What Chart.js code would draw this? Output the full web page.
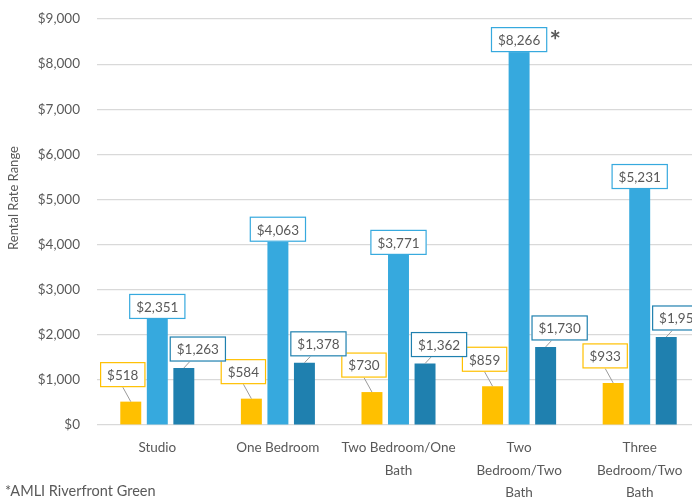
<!DOCTYPE html>
<html>
<head>
<meta charset="utf-8">
<script src="https://cdn.jsdelivr.net/npm/chart.js@4"></script>
<style>
  html, body { margin: 0; padding: 0; background: #fff; }
  #wrap { width: 692px; height: 500px; overflow: hidden; position: relative; }
  #box { width: 700px; height: 500px; }
</style>
</head>
<body>
<div id="wrap"><div id="box"><canvas id="c"></canvas></div></div>
<script>
const categories = [
  "Studio",
  "One Bedroom",
  ["Two Bedroom/One", "Bath"],
  ["Two", "Bedroom/Two", "Bath"],
  ["Three", "Bedroom/Two", "Bath"]
];
const lowValues = [518, 584, 730, 859, 933];
const highValues = [2351, 4063, 3771, 8266, 5231];
const avgValues = [1263, 1378, 1362, 1730, 1951];
const yTicks = [0, 1000, 2000, 3000, 4000, 5000, 6000, 7000, 8000, 9000];
const starredIndex = 3;
const footnote = "*AMLI Riverfront Green";
const yTitle = "Rental Rate Range";

const YELLOW = "#FFC000";
const LIGHT = "#36A9DE";
const DARK = "#1F80AF";
const TEXT = "#595959";
const FONT = "Lato, 'Open Sans', sans-serif";

const money = v => "$" + v.toLocaleString("en-US");

// labels in boxes, placed like the original callouts
const calloutPlugin = {
  id: "callouts",
  afterDatasetsDraw(chart) {
    const ctx = chart.ctx;
    ctx.save();
    ctx.font = "13.5px " + FONT;
    ctx.textAlign = "center";
    ctx.textBaseline = "middle";
    const h = 25;
    chart.data.datasets.forEach((ds, di) => {
      const meta = chart.getDatasetMeta(di);
      meta.data.forEach((bar, i) => {
        const txt = money(ds.data[i]);
        const w = ctx.measureText(txt).width + 14;
        let cx, cy;
        if (di === 0) { cx = bar.x - 8; cy = bar.y - 27; }
        else if (di === 1) { cx = bar.x; cy = bar.y - h / 2; }
        else { cx = bar.x + 14; cy = bar.y - 19; }
        // leader line
        if (di !== 1) {
          ctx.strokeStyle = "#9a9a9a";
          ctx.lineWidth = 1;
          ctx.beginPath();
          ctx.moveTo(cx + (di === 0 ? 0 : -8), cy + h / 2);
          ctx.lineTo(bar.x, bar.y);
          ctx.stroke();
        }
        ctx.fillStyle = "#fff";
        ctx.fillRect(cx - w / 2, cy - h / 2, w, h);
        ctx.strokeStyle = ds.backgroundColor;
        ctx.lineWidth = 1.2;
        ctx.strokeRect(cx - w / 2 + 0.5, cy - h / 2 + 0.5, w - 1, h - 1);
        ctx.fillStyle = TEXT;
        ctx.fillText(txt, cx, cy + 1);
        if (di === 1 && i === starredIndex) {
          ctx.font = "bold 27px " + FONT;
          ctx.fillText("*", cx + w / 2 + 8, cy + 2);
          ctx.font = "13.5px " + FONT;
        }
      });
    });
    ctx.restore();
  },
  afterDraw(chart) {
    const ctx = chart.ctx;
    ctx.save();
    ctx.fillStyle = TEXT;
    ctx.font = "14.5px " + FONT;
    ctx.textAlign = "left";
    ctx.textBaseline = "middle";
    ctx.fillText(footnote, 5, 491);
    ctx.translate(14, 198);
    ctx.rotate(-Math.PI / 2);
    ctx.textAlign = "center";
    ctx.font = "13px " + FONT;
    ctx.fillText(yTitle, 0, 0);
    ctx.restore();
  }
};

new Chart(document.getElementById("c"), {
  type: "bar",
  data: {
    labels: categories,
    datasets: [
      { label: "Low", data: lowValues, backgroundColor: YELLOW },
      { label: "High", data: highValues, backgroundColor: LIGHT },
      { label: "Average", data: avgValues, backgroundColor: DARK }
    ]
  },
  options: {
    responsive: true,
    maintainAspectRatio: false,
    animation: false,
    categoryPercentage: 0.66,
    barPercentage: 0.79,
    layout: { padding: { top: 19, right: 0, left: 0, bottom: 0 } },
    plugins: { legend: { display: false }, tooltip: { enabled: false } },
    scales: {
      x: {
        grid: { display: false },
        border: { display: false },
        ticks: {
          color: TEXT,
          font: { family: FONT, size: 13.5, lineHeight: 1.65 },
          padding: 4,
          maxRotation: 0,
          autoSkip: false
        },
        afterFit(scale) {
          scale.height = 75;
          scale.paddingLeft = 0;
          scale.paddingRight = 0;
        }
      },
      y: {
        min: 0,
        max: 9000,
        afterBuildTicks(scale) { scale.ticks = yTicks.map(v => ({ value: v })); },
        grid: { color: "#d9d9d9", lineWidth: 1.2, drawTicks: false },
        border: { display: false },
        ticks: {
          color: TEXT,
          font: { family: FONT, size: 13.5 },
          padding: 17,
          callback: v => money(v)
        },
        afterFit(scale) {
          scale.width = 97;
          scale.paddingTop = 0;
          scale.paddingBottom = 0;
        }
      }
    }
  },
  plugins: [calloutPlugin]
});
</script>
</body>
</html>
